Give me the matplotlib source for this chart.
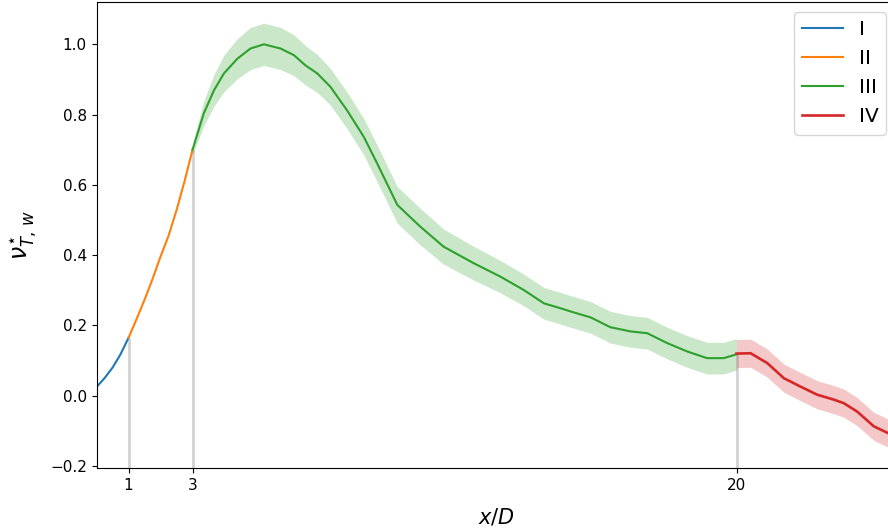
import matplotlib.pyplot as plt
import numpy as np

# region I
x1 = [0.0, 0.25, 0.5, 0.75, 1.0]
y1 = [0.025, 0.05, 0.08, 0.118, 0.165]

# region II
x2 = [1.0, 1.25, 1.5, 1.75, 2.0, 2.25, 2.5, 2.75, 3.0]
y2 = [0.165, 0.218, 0.273, 0.332, 0.396, 0.455, 0.528, 0.61, 0.70]

# region III
x3 = [3.0, 3.35, 3.67, 3.98, 4.4, 4.81, 5.23, 5.75, 6.17, 6.53, 6.9, 7.31, 7.83,
      8.35, 8.77, 9.4, 10.12, 10.85, 11.79, 12.62, 13.35, 13.98, 14.5, 14.81, 15.44,
      16.06, 16.69, 17.21, 17.83, 18.46, 19.08, 19.6, 20.0]
y3 = [0.70, 0.803, 0.869, 0.917, 0.959, 0.988, 1.0, 0.988, 0.969, 0.94, 0.917,
      0.879, 0.812, 0.737, 0.661, 0.543, 0.481, 0.424, 0.377, 0.339, 0.301, 0.263,
      0.249, 0.24, 0.223, 0.195, 0.183, 0.178, 0.15, 0.126, 0.107, 0.107, 0.118]
e3 = [0.015, 0.035, 0.045, 0.052, 0.057, 0.06, 0.06, 0.06, 0.058, 0.056, 0.054,
      0.052, 0.052, 0.052, 0.052, 0.052, 0.052, 0.05, 0.048, 0.046, 0.045, 0.045,
      0.045, 0.045, 0.045, 0.045, 0.045, 0.045, 0.045, 0.045, 0.045, 0.045, 0.045]

# region IV
x4 = [20.0, 20.44, 20.96, 21.48, 22.0, 22.52, 23.04, 23.35, 23.77, 24.29, 24.73, 25.0]
y4 = [0.12, 0.121, 0.093, 0.05, 0.026, 0.003, -0.011, -0.021, -0.045, -0.087, -0.106,
      -0.11]
e4 = [0.04] * len(x4)

bounds = [1, 3, 20]
bound_vals = [0.165, 0.70, 0.12]

fig = plt.figure(figsize=(8.88, 5.31), dpi=100)
# axes runs slightly past the right edge of the figure, as in the original
ax = fig.add_axes([0.1087, 0.119, 0.9009, 0.877])

ax.vlines(bounds, -0.25, bound_vals, color='lightgray', lw=2, zorder=1)

ax.plot(x1, y1, color='tab:blue', label='I')
ax.plot(x2, y2, color='tab:orange', label='II')
ax.plot(x3, y3, color='tab:green', label='III')
ax.fill_between(x3, np.array(y3) - np.array(e3), np.array(y3) + np.array(e3),
                color='tab:green', alpha=0.25, lw=0)
ax.plot(x4, y4, color='tab:red', lw=1.9, label='IV')
ax.fill_between(x4, np.array(y4) - np.array(e4), np.array(y4) + np.array(e4),
                color='tab:red', alpha=0.25, lw=0)

ax.set_xlim(0, 25)
ax.set_ylim(-0.205, 1.12)
ax.set_xticks(bounds)
ax.set_yticks([-0.2, 0.0, 0.2, 0.4, 0.6, 0.8, 1.0])
ax.tick_params(labelsize=11)
ax.set_xlabel('$x/D$', fontsize=15, labelpad=10)
ax.set_ylabel(r'$\nu^{\star}_{T,\,w}$', fontsize=17, labelpad=8)
ax.legend(loc='upper right', fontsize=14.5, handlelength=2.0)

fig.savefig('out.png', dpi=100)
